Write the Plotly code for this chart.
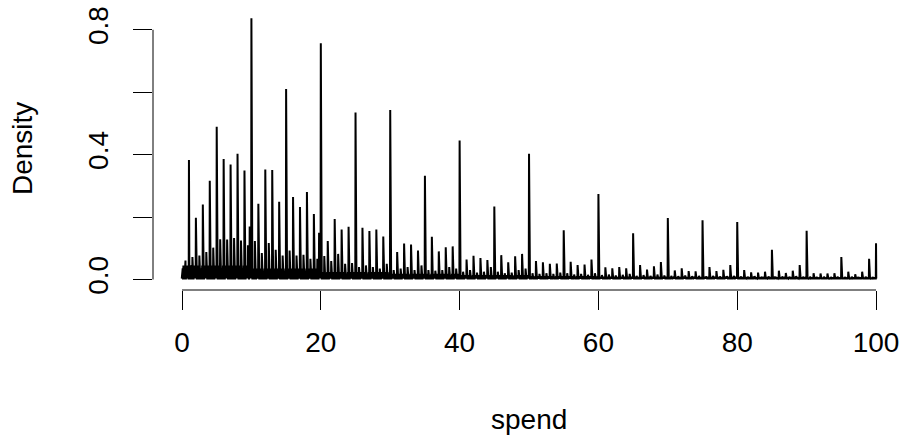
import plotly.graph_objects as go

# ---- data (density of "spend") ----
# spike heights at whole amounts 0..100
whole_x = list(range(0, 101))
whole_h = [0.03, 0.383, 0.198, 0.24, 0.316, 0.489, 0.386, 0.368, 0.403, 0.349,
           0.837, 0.243, 0.352, 0.351, 0.249, 0.61, 0.264, 0.232, 0.28, 0.21,
           0.757, 0.123, 0.194, 0.16, 0.169, 0.535, 0.166, 0.155, 0.16, 0.138,
           0.543, 0.088, 0.115, 0.112, 0.093, 0.332, 0.137, 0.09, 0.103, 0.106,
           0.445, 0.064, 0.076, 0.069, 0.062, 0.234, 0.078, 0.055, 0.074, 0.082,
           0.403, 0.059, 0.055, 0.05, 0.051, 0.158, 0.057, 0.046, 0.048, 0.064,
           0.274, 0.039, 0.036, 0.04, 0.036, 0.148, 0.046, 0.032, 0.042, 0.056,
           0.197, 0.029, 0.036, 0.027, 0.026, 0.19, 0.04, 0.027, 0.031, 0.046,
           0.184, 0.03, 0.023, 0.022, 0.025, 0.095, 0.028, 0.021, 0.028, 0.046,
           0.156, 0.02, 0.019, 0.019, 0.02, 0.072, 0.025, 0.017, 0.025, 0.066,
           0.116]
# spike heights at half amounts 0.5..99.5
half_h = [0.061, 0.072, 0.077, 0.088, 0.102, 0.129, 0.128, 0.133, 0.125, 0.11,
          0.123, 0.085, 0.117, 0.095, 0.077, 0.093, 0.077, 0.079, 0.066, 0.066,
          0.075, 0.059, 0.082, 0.05, 0.053, 0.04, 0.045, 0.04, 0.035, 0.05,
          0.03, 0.035, 0.04, 0.03, 0.045, 0.03, 0.028, 0.03, 0.04, 0.035,
          0.025, 0.03, 0.022, 0.025, 0.04, 0.025, 0.02, 0.022, 0.03, 0.035,
          0.02, 0.018, 0.02, 0.018, 0.022, 0.02, 0.016, 0.018, 0.015, 0.02,
          0.014, 0.016, 0.013, 0.015, 0.018, 0.012, 0.014, 0.012, 0.016, 0.013,
          0.012, 0.011, 0.013, 0.011, 0.012, 0.01, 0.012, 0.01, 0.011, 0.012,
          0.01, 0.009, 0.011, 0.009, 0.01, 0.009, 0.01, 0.009, 0.011, 0.009,
          0.009, 0.008, 0.009, 0.008, 0.009, 0.008, 0.009, 0.008, 0.009, 0.008]
half_x = [k + 0.5 for k in range(100)]
# a few off-grid spikes just below round amounts
odd_x = [9.75, 19.75]
odd_h = [0.17, 0.15]
# typical height of the dense low spikes, per band of 10
band_h = [0.045, 0.035, 0.024, 0.018, 0.014, 0.011, 0.009, 0.008, 0.007, 0.006]
floor_h = 0.003

x_ticks = [0, 20, 40, 60, 80, 100]
y_ticks = [0.0, 0.2, 0.4, 0.6, 0.8]
y_labels = ["0.0", "", "0.4", "", "0.8"]

# ---- assemble spikes ----
spikes = {}
for x, h in zip(whole_x, whole_h):
    spikes[round(x, 2)] = h
for x, h in zip(half_x, half_h):
    spikes[round(x, 2)] = h
for x, h in zip(odd_x, odd_h):
    spikes[round(x, 2)] = h
for k in range(100):
    for j in (1, 2, 3, 4, 6, 7, 8, 9):
        p = round(k + j / 10, 2)
        if p not in spikes:
            spikes[p] = band_h[min(k // 10, 9)] * (0.6 + 0.4 * ((k + j) % 3) / 2)

d = 0.035
xs, ys = [], []
for p in sorted(spikes):
    xs += [p - d, p, p + d]
    ys += [floor_h, spikes[p], floor_h]

fig = go.Figure()
fig.add_trace(go.Scatter(x=xs, y=ys, mode="lines",
                         line=dict(color="black", width=2),
                         hoverinfo="skip", showlegend=False))

font = "Liberation Sans, Arial, sans-serif"
fs = 28

fig.update_layout(
    width=904, height=438,
    margin=dict(l=153, r=0, t=7, b=148),
    paper_bgcolor="white", plot_bgcolor="white",
    font=dict(family=font, size=fs, color="black"),
    xaxis=dict(range=[-4.18, 104.03], showgrid=False, zeroline=False,
               showline=False, ticks="outside", ticklen=19, tickwidth=1,
               tickcolor="black", tickvals=x_ticks,
               ticktext=[str(v) for v in x_ticks], automargin=False,
               tickfont=dict(family=font, size=fs), ticklabelstandoff=8),
    yaxis=dict(range=[-0.0337, 0.873], showgrid=False, zeroline=False,
               showline=False, ticks="outside", ticklen=19, tickwidth=1,
               tickcolor="black", tickvals=y_ticks, ticktext=y_labels,
               tickangle=-90, tickfont=dict(family=font, size=fs),
               ticklabelstandoff=14, automargin=False),
    shapes=[
        dict(type="line", xref="x", yref="paper", x0=x_ticks[0], x1=x_ticks[-1],
             y0=0, y1=0, line=dict(color="black", width=1)),
        dict(type="line", xref="paper", yref="y", x0=0, x1=0,
             y0=y_ticks[0], y1=y_ticks[-1], line=dict(color="black", width=1)),
    ],
    annotations=[
        dict(text="spend", xref="paper", yref="paper", x=0.5, y=0,
             yshift=-147, yanchor="bottom", showarrow=False,
             font=dict(family=font, size=fs)),
        dict(text="Density", xref="paper", yref="paper", x=0, y=0.5,
             xshift=-148, xanchor="left", textangle=-90, showarrow=False,
             font=dict(family=font, size=fs)),
    ],
)

fig.write_html("out.html", config={"displayModeBar": False},
               post_script="document.body.style.margin='0';"
                           "document.body.style.padding='0';")
